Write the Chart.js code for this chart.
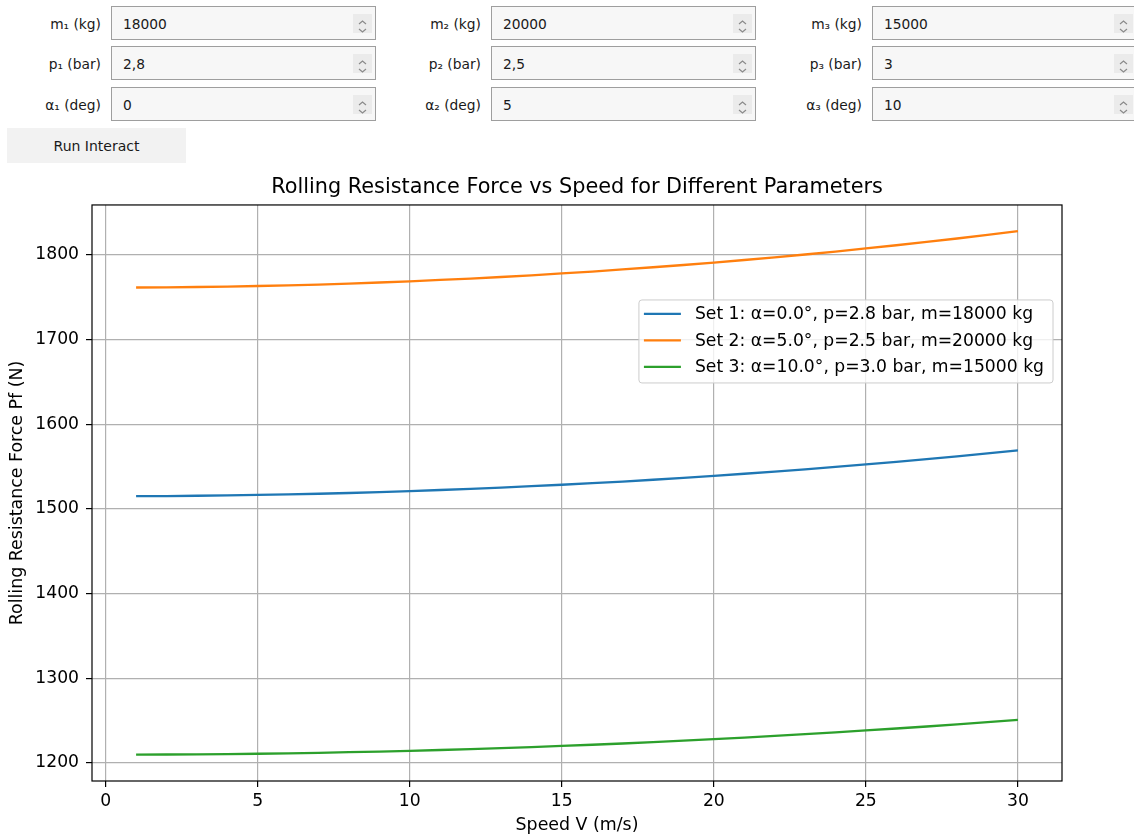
<!DOCTYPE html>
<html>
<head>
<meta charset="utf-8">
<script src="https://cdn.jsdelivr.net/npm/chart.js@4.4.1/dist/chart.umd.min.js"></script>
<style>
  html, body { margin: 0; padding: 0; background: #fff; width: 1134px; height: 839px; overflow: hidden; }
  .lbl { position: absolute; width: 95px; height: 34px; line-height: 37px; text-align: right;
         font-family: "DejaVu Sans", sans-serif; font-size: 13.8px; color: #1a1a1a; white-space: nowrap; }
  .box { position: absolute; width: 265px; height: 34px; box-sizing: border-box; border: 1px solid #9e9e9e;
         background: #f7f7f7; padding-left: 11px; line-height: 35px; overflow: hidden;
         font-family: "DejaVu Sans", sans-serif; font-size: 13.8px; color: #1a1a1a; }
  .spin { position: absolute; right: 3px; top: 7px; width: 19px; height: 19px; background: #ebebeb; }
  .btn { position: absolute; left: 7px; top: 128px; width: 179px; height: 35px; background: #f2f2f2;
         line-height: 36px; text-align: center; font-family: "DejaVu Sans", sans-serif; font-size: 14px; color: #1a1a1a; }
  #wrap { position: absolute; left: 0; top: 166px; width: 1134px; height: 673px; }
</style>
</head>
<body>
<div id="widgets"></div>
<div class="btn">Run Interact</div>
<div id="wrap"><canvas id="myChart" width="1134" height="673"></canvas></div>
<script>
// parameters shown in the widgets / legend
const masses = [18000, 20000, 15000];
const pressures = [2.8, 2.5, 3];
const angles = [0, 5, 10];

const speeds = [1, 2, 3, 4, 5, 6, 7, 8, 9, 10, 11, 12, 13, 14, 15,
                16, 17, 18, 19, 20, 21, 22, 23, 24, 25, 26, 27, 28, 29, 30];
const set1Force = [1515.1, 1515.2, 1515.5, 1516.0, 1516.5, 1517.2, 1517.9, 1518.8, 1519.9, 1521.0,
                   1522.3, 1523.6, 1525.1, 1526.8, 1528.5, 1530.4, 1532.3, 1534.4, 1536.7, 1539.0,
                   1541.5, 1544.0, 1546.7, 1549.6, 1552.5, 1555.6, 1558.7, 1562.0, 1565.5, 1569.0];
const set2Force = [1761.5, 1761.7, 1762.1, 1762.6, 1763.3, 1764.1, 1765.0, 1766.1, 1767.4, 1768.8,
                   1770.4, 1772.1, 1773.9, 1775.9, 1778.1, 1780.3, 1782.8, 1785.4, 1788.1, 1791.0,
                   1794.0, 1797.2, 1800.5, 1804.0, 1807.7, 1811.4, 1815.3, 1819.4, 1823.6, 1828.0];
const set3Force = [1209.7, 1209.9, 1210.1, 1210.4, 1210.8, 1211.3, 1211.9, 1212.6, 1213.4, 1214.3,
                   1215.2, 1216.3, 1217.4, 1218.7, 1220.0, 1221.4, 1222.9, 1224.5, 1226.2, 1228.0,
                   1229.9, 1231.8, 1233.9, 1236.0, 1238.3, 1240.6, 1243.0, 1245.5, 1248.1, 1250.8];

const xTicks = [0, 5, 10, 15, 20, 25, 30];
const yTicks = [1200, 1300, 1400, 1500, 1600, 1700, 1800];
const colors = ["#1f77b4", "#ff7f0e", "#2ca02c"];

// --- widget row (ipywidgets look-alike) ---
const subs = ["\u2081", "\u2082", "\u2083"];
const colX = [111, 491, 872];
const rowY = [6, 46, 87];
const spinSvg = '<svg width="19" height="19" viewBox="0 0 19 19"><path d="M6 7 L9.5 4 L13 7" fill="none" stroke="#8a8a8a" stroke-width="1.2"/><path d="M6 12 L9.5 15 L13 12" fill="none" stroke="#8a8a8a" stroke-width="1.2"/></svg>';
let html = "";
for (let i = 0; i < 3; i++) {
    const rows = [
        ["m" + subs[i] + " (kg)", String(masses[i])],
        ["p" + subs[i] + " (bar)", String(pressures[i]).replace(".", ",")],
        ["\u03b1" + subs[i] + " (deg)", String(angles[i])]
    ];
    rows.forEach((r, j) => {
        html += `<div class="lbl" style="left:${colX[i] - 105}px;top:${rowY[j]}px">${r[0]}</div>`;
        html += `<div class="box" style="left:${colX[i]}px;top:${rowY[j]}px">${r[1]}<div class="spin">${spinSvg}</div></div>`;
    });
}
document.getElementById("widgets").innerHTML = html;

// --- chart ---
const FONT = "'DejaVu Sans', sans-serif";
const FS = 17.2;
const toPts = (arr) => speeds.map((v, i) => ({x: v, y: arr[i]}));
const series = [set1Force, set2Force, set3Force];

const datasets = series.map((s, i) => ({
    label: `Set ${i + 1}: \u03b1=${angles[i].toFixed(1)}\u00b0, p=${pressures[i].toFixed(1)} bar, m=${masses[i]} kg`,
    data: toPts(s),
    borderColor: colors[i],
    backgroundColor: colors[i],
    borderWidth: 2.3,
    pointRadius: 0,
    tension: 0,
    fill: false,
}));

// black frame around the axes, like matplotlib spines
const framePlugin = {
    id: "frame",
    afterDatasetsDraw(chart) {
        const {ctx, chartArea: a} = chart;
        ctx.save();
        ctx.strokeStyle = "#000";
        ctx.lineWidth = 1.2;
        ctx.strokeRect(a.left, a.top, a.right - a.left, a.bottom - a.top);
        ctx.restore();
    }
};

// legend box placed inside the plot ("best" location in the original)
const boxLegend = {
    id: "boxLegend",
    afterDraw(chart) {
        const {ctx, chartArea: a} = chart;
        const sets = chart.data.datasets;
        ctx.save();
        ctx.font = FS + "px " + FONT;
        let maxW = 0;
        sets.forEach(d => { maxW = Math.max(maxW, ctx.measureText(d.label).width); });
        const rowH = 26.5;
        const w = 56 + maxW + 9;
        const h = 14 + rowH * (sets.length - 1) + 16;
        const right = a.right - 9;
        const x = right - w, y = a.top + 95;
        ctx.beginPath();
        ctx.roundRect(x, y, w, h, 3);
        ctx.fillStyle = "rgba(255,255,255,0.8)";
        ctx.fill();
        ctx.strokeStyle = "#cccccc";
        ctx.lineWidth = 1;
        ctx.stroke();
        sets.forEach((d, i) => {
            const cy = y + 14 + i * rowH;
            ctx.strokeStyle = d.borderColor;
            ctx.lineWidth = 2.3;
            ctx.beginPath();
            ctx.moveTo(x + 5, cy);
            ctx.lineTo(x + 42, cy);
            ctx.stroke();
            ctx.fillStyle = "#000";
            ctx.textBaseline = "middle";
            ctx.fillText(d.label, x + 56, cy + 1);
        });
        ctx.restore();
    }
};

const ctx = document.getElementById("myChart").getContext("2d");
new Chart(ctx, {
    type: "line",
    data: { datasets },
    plugins: [framePlugin, boxLegend],
    options: {
        responsive: false,
        animation: false,
        devicePixelRatio: 1,
        layout: { padding: { left: 0, right: 72, top: 0, bottom: 0 } },
        plugins: {
            legend: { display: false },
            tooltip: { enabled: false },
            title: {
                display: true,
                text: "Rolling Resistance Force vs Speed for Different Parameters",
                fullSize: false,
                color: "#000",
                font: { family: FONT, size: 20.8, weight: "normal", lineHeight: 1.2 },
                padding: { top: 9, bottom: 5 },
            },
        },
        scales: {
            x: {
                type: "linear",
                min: -0.45,
                max: 31.45,
                afterBuildTicks: (s) => { s.ticks = xTicks.map(v => ({value: v})); },
                afterFit: (s) => { s.height = 58; },
                ticks: { color: "#000", font: { family: FONT, size: FS }, padding: 4, maxRotation: 0,
                         callback: (v) => String(v) },
                grid: { color: "#b0b0b0", lineWidth: 1.2, tickColor: "#000", tickLength: 6, tickWidth: 1.2 },
                border: { display: false },
                title: { display: true, text: "Speed V (m/s)", color: "#000",
                         font: { family: FONT, size: 17.4 }, padding: { top: 0, bottom: 3 } },
            },
            y: {
                min: 1178.6,
                max: 1859,
                afterBuildTicks: (s) => { s.ticks = yTicks.map(v => ({value: v})); },
                afterFit: (s) => { s.width = 92; },
                ticks: { color: "#000", font: { family: FONT, size: FS }, padding: 7,
                         callback: (v) => String(v) },
                grid: { color: "#b0b0b0", lineWidth: 1.2, tickColor: "#000", tickLength: 6, tickWidth: 1.2 },
                border: { display: false },
                title: { display: true, text: "Rolling Resistance Force Pf (N)", color: "#000",
                         font: { family: FONT, size: 17.4 }, padding: { top: 7, bottom: 0 } },
            },
        },
    },
});
</script>
</body>
</html>
